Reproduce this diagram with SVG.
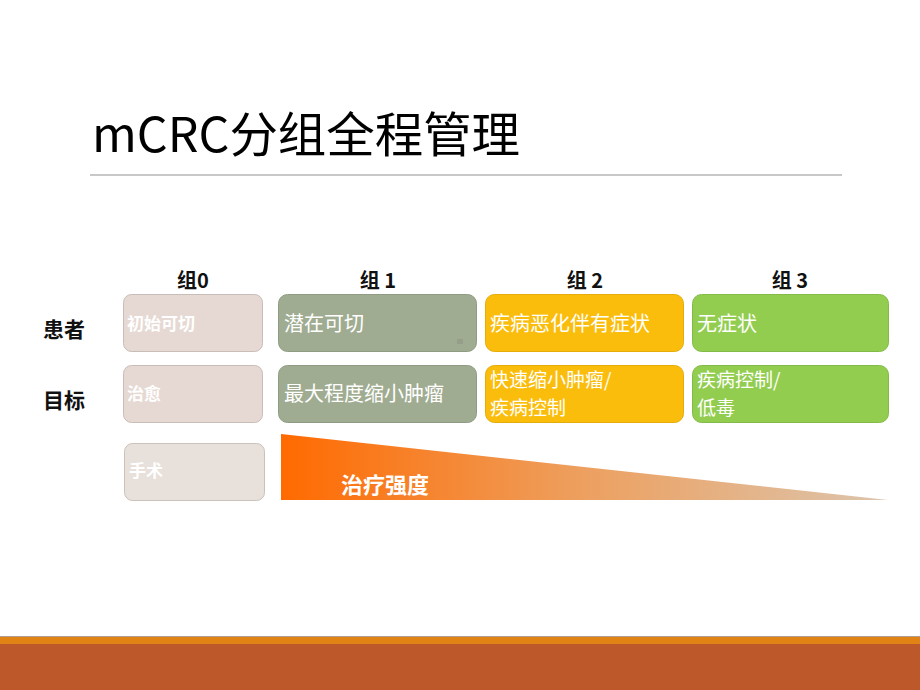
<svg xmlns="http://www.w3.org/2000/svg" width="920" height="690" viewBox="0 0 920 690">
<style>
text{font-family:"Noto Sans CJK SC","Noto Sans",sans-serif;}
.hdr{font-size:20px;font-weight:bold;fill:#111;text-anchor:middle;}
.row{font-size:21px;font-weight:bold;fill:#111;}
.g0{fill:#e6d9d3;stroke:#c9bdb7;stroke-width:1;}
.g0b{fill:#e8e0da;stroke:#c9c1bb;stroke-width:1;}
.g1{fill:#a0ac91;stroke:#909b83;stroke-width:1;}
.g2{fill:#fbbd0b;stroke:#e6ac0a;stroke-width:1;}
.g3{fill:#92cd50;stroke:#84bb48;stroke-width:1;}
.t0{font-size:17px;font-weight:bold;fill:#ffffff;}
.t{font-size:20px;fill:#ffffff;}
.t2{font-size:19px;fill:#ffffff;}
</style>
<defs>
<linearGradient id="tri" x1="0" y1="0" x2="1" y2="0">
<stop offset="0" stop-color="#ff6a00"/>
<stop offset="0.5" stop-color="#eda060"/>
<stop offset="1" stop-color="#dcc5ad"/>
</linearGradient>
</defs>
<rect width="920" height="690" fill="#ffffff"/>
<text x="92" y="152" font-size="48" fill="#000" textLength="428" lengthAdjust="spacingAndGlyphs">mCRC分组全程管理</text>
<line x1="90" y1="175" x2="842" y2="175" stroke="#c8c8c8" stroke-width="2"/>

<text class="hdr" x="193" y="288">组0</text>
<text class="hdr" x="378" y="288">组 1</text>
<text class="hdr" x="585" y="288">组 2</text>
<text class="hdr" x="790" y="288">组 3</text>
<text class="row" x="43" y="337">患者</text>
<text class="row" x="43" y="408">目标</text>

<g id="g0-patient"><rect class="g0" x="123.5" y="294.5" width="139" height="57" rx="8"/><text class="t0" x="127" y="330">初始可切</text></g>
<g id="g0-goal"><rect class="g0" x="123.5" y="365.5" width="139" height="57" rx="8"/><text class="t0" x="127" y="400">治愈</text></g>
<g id="g0-tx"><rect class="g0b" x="124.5" y="443.5" width="140" height="57" rx="8"/><text class="t0" x="129" y="477">手术</text></g>

<g id="g1-patient"><rect class="g1" x="278.5" y="294.5" width="198" height="57" rx="9"/><text class="t" x="284" y="331">潜在可切</text><rect x="457" y="339" width="6" height="5" fill="#959e88"/></g>
<g id="g1-goal"><rect class="g1" x="278.5" y="365.5" width="198" height="57" rx="9"/><text class="t" x="284" y="401">最大程度缩小肿瘤</text></g>

<g id="g2-patient"><rect class="g2" x="485.5" y="294.5" width="198" height="57" rx="9"/><text class="t" x="490" y="331">疾病恶化伴有症状</text></g>
<g id="g2-goal"><rect class="g2" x="485.5" y="365.5" width="198" height="57" rx="9"/><text class="t2" x="490" y="387">快速缩小肿瘤/</text><text class="t2" x="490" y="415">疾病控制</text></g>

<g id="g3-patient"><rect class="g3" x="692.5" y="294.5" width="196" height="57" rx="9"/><text class="t" x="697" y="331">无症状</text></g>
<g id="g3-goal"><rect class="g3" x="692.5" y="365.5" width="196" height="57" rx="9"/><text class="t2" x="697" y="387">疾病控制/</text><text class="t2" x="697" y="415">低毒</text></g>

<g id="intensity"><polygon points="281,434 888,500 281,500" fill="url(#tri)"/><text x="341" y="493" font-size="22" font-weight="bold" fill="#ffffff">治疗强度</text></g>

<rect x="0" y="636" width="920" height="1" fill="#b0a090"/>
<rect x="0" y="637" width="920" height="8" fill="#e18214"/>
<rect x="0" y="644" width="920" height="46" fill="#bd582b"/>
</svg>
